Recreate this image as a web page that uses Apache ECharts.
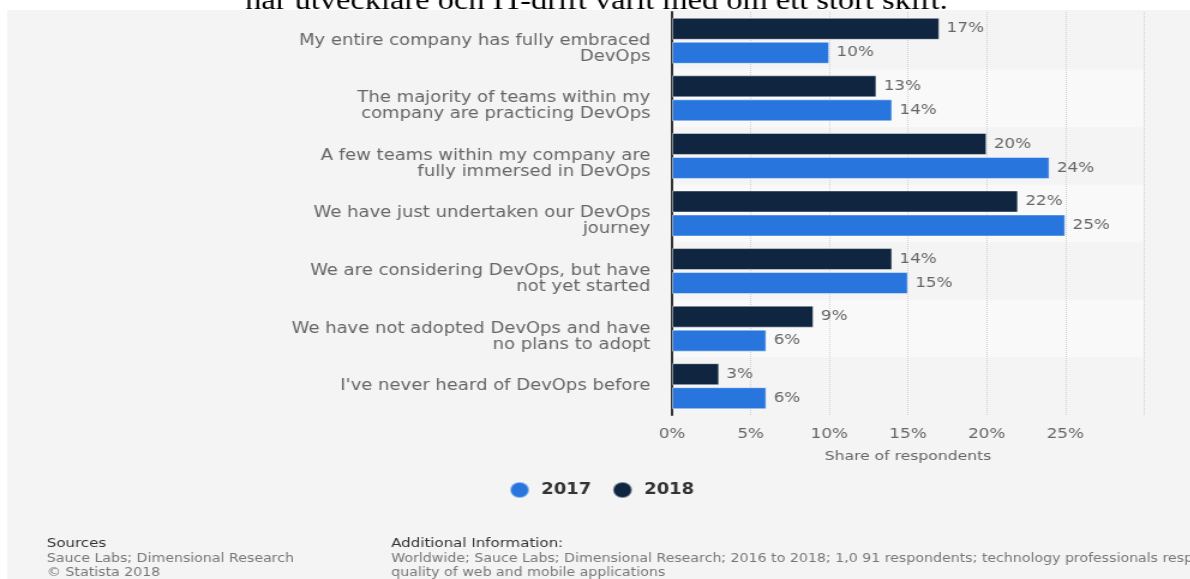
<!DOCTYPE html>
<html>
<head>
<meta charset="utf-8">
<script src="https://cdn.jsdelivr.net/npm/echarts@6/dist/echarts.min.js"></script>
<style>
  html, body { margin: 0; padding: 0; background: #fff; overflow: hidden; }
  /* the source picture is stretched 1.2x horizontally, so draw at 992px and stretch */
  #chart-1 { width: 992px; height: 579px; transform: scaleX(1.2); transform-origin: 0 0; }
</style>
</head>
<body>
<div id="chart-1"></div>
<script>
var categories = [
  "My entire company has fully embraced\nDevOps",
  "The majority of teams within my\ncompany are practicing DevOps",
  "A few teams within my company are\nfully immersed in DevOps",
  "We have just undertaken our DevOps\njourney",
  "We are considering DevOps, but have\nnot yet started",
  "We have not adopted DevOps and have\nno plans to adopt",
  "I've never heard of DevOps before"
];
var values2017 = [10, 14, 24, 25, 15, 6, 6];
var values2018 = [17, 13, 20, 22, 14, 9, 3];
var tickLabels = ["0%", "5%", "10%", "15%", "20%", "25%", ""];

/**Chart 1**/
var dom = document.getElementById("chart-1");
var Chart1 = echarts.init(dom, null, {
  renderer: "canvas",
  useDirtyRect: false,
});

var option;

option = {
  backgroundColor: "#ffffff",
  textStyle: { fontFamily: "DejaVu Sans" },
  graphic: [
    {
      type: "rect",
      z: -10,
      shape: { x: 6, y: 10, width: 1000, height: 579 },
      style: { fill: "#f4f4f4" },
    },
    {
      type: "text",
      x: 497,
      y: 15,
      style: {
        text: "har utvecklare och IT-drift varit med om ett stort skift.",
        font: "27px 'Liberation Serif'",
        fill: "#000",
        align: "center",
        verticalAlign: "bottom",
      },
    },
    {
      type: "text",
      left: 39,
      top: 537,
      style: {
        text: "Sources",
        font: "12.5px 'DejaVu Sans'",
        fill: "#333",
      },
    },
    {
      type: "text",
      left: 39,
      top: 552,
      style: {
        text: "Sauce Labs; Dimensional Research\n\u00a9 Statista 2018",
        font: "11.8px 'DejaVu Sans'",
        lineHeight: 14,
        fill: "#777",
      },
    },
    {
      type: "text",
      left: 326,
      top: 537,
      style: {
        text: "Additional Information:",
        font: "12.5px 'DejaVu Sans'",
        fill: "#333",
      },
    },
    {
      type: "text",
      left: 326,
      top: 552,
      style: {
        text: "Worldwide; Sauce Labs; Dimensional Research; 2016 to 2018; 1,0 91 respondents; technology professionals responsible for the\nquality of web and mobile applications",
        font: "11.8px 'DejaVu Sans'",
        lineHeight: 14,
        fill: "#777",
      },
    },
  ],
  legend: {
    top: 476,
    left: 419,
    itemWidth: 16,
    itemHeight: 16,
    itemGap: 17,
    icon: "circle",
    data: ["2017", "2018"],
    textStyle: {
      fontSize: 15,
      fontWeight: "bold",
      color: "#333",
      padding: [0, 0, 0, 5],
    },
  },
  grid: {
    left: 560,
    right: 38.7,
    top: 12,
    bottom: 164,
    containLabel: false,
  },
  xAxis: {
    type: "value",
    min: 0,
    max: 30,
    interval: 5,
    name: "Share of respondents",
    nameLocation: "middle",
    nameGap: 35,
    nameTextStyle: { color: "#666", fontSize: 13 },
    axisLine: { show: false },
    axisTick: { show: false },
    axisLabel: {
      color: "#666",
      fontSize: 14,
      margin: 12,
      formatter: function (value) {
        return tickLabels[value / 5];
      },
    },
    splitLine: {
      show: true,
      lineStyle: { color: "#d0d0d0", type: "dotted", width: 1 },
    },
  },
  yAxis: {
    type: "category",
    inverse: true,
    data: categories,
    axisLine: { show: true, lineStyle: { color: "#333", width: 2 } },
    axisTick: { show: false },
    axisLabel: {
      color: "#666",
      fontSize: 15,
      lineHeight: 16,
      margin: 18,
      align: "right",
      formatter: function (value) {
        return value.indexOf("\n") >= 0 ? "\n" + value : value;
      },
    },
    splitArea: {
      show: true,
      areaStyle: { color: ["#f4f4f4", "#f9f9f9"] },
    },
  },
  series: [
    {
      name: "2018",
      type: "bar",
      color: "#10253f",
      barWidth: 22,
      barGap: "9%",
      itemStyle: { borderColor: "rgba(255,255,255,0.45)", borderWidth: 1 },
      label: {
        show: true,
        position: "right",
        distance: 6,
        color: "#666",
        fontSize: 14,
        formatter: "{c}%",
      },
      data: values2018,
    },
    {
      name: "2017",
      type: "bar",
      color: "#2876dd",
      barWidth: 22,
      barGap: "9%",
      itemStyle: { borderColor: "rgba(255,255,255,0.45)", borderWidth: 1 },
      label: {
        show: true,
        position: "right",
        distance: 6,
        color: "#666",
        fontSize: 14,
        formatter: "{c}%",
      },
      data: values2017,
    },
  ],
};

if (option && typeof option === "object") {
  Chart1.setOption(option);
}

window.addEventListener("resize", Chart1.resize);
/**End Chart 1**/
</script>
</body>
</html>
